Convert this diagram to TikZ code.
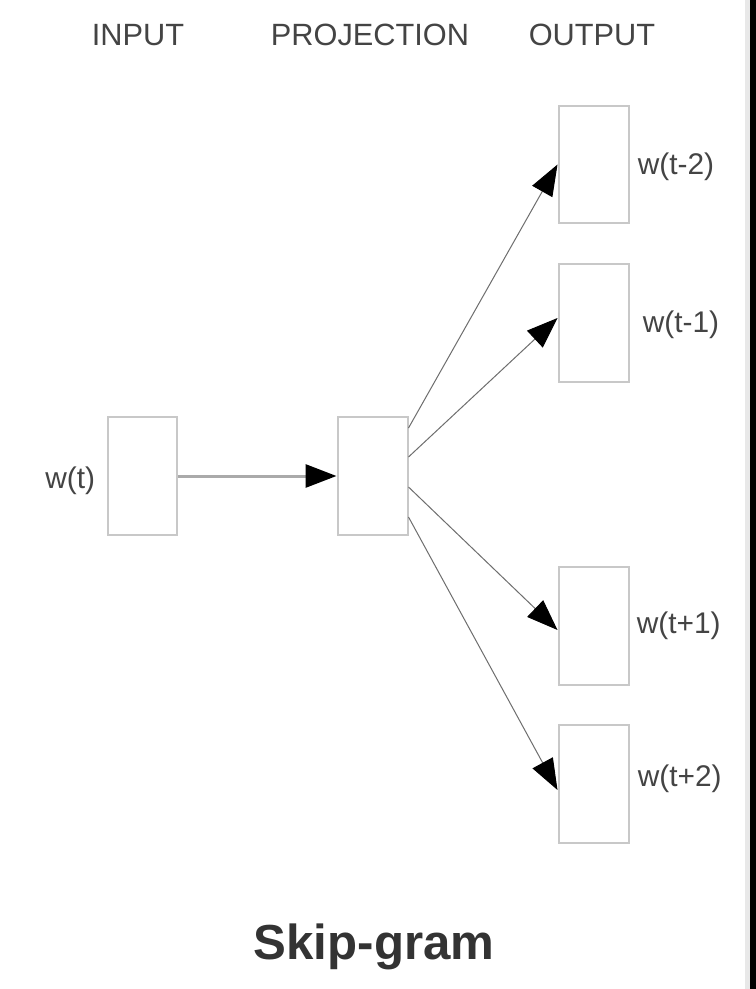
\documentclass[tikz,border=0pt]{standalone}
\usepackage{fontspec}
\setmainfont{Liberation Sans}
\usetikzlibrary{positioning,arrows.meta}
\definecolor{boxgray}{RGB}{200,200,200}
\definecolor{txtgray}{RGB}{68,68,68}
\definecolor{linegray}{RGB}{110,110,110}
\begin{document}
\begin{tikzpicture}[x=0.02cm, y=-0.02cm, node distance=0.16cm]
\tikzset{%
	layer/.style = {draw=boxgray, line width=0.04cm, rectangle, minimum width = 1.4cm, minimum height = 2.36cm, inner sep=0},
	lbl/.style = {text=txtgray, inner sep=0, font=\fontsize{17}{20}\selectfont},
	head/.style = {text=txtgray, inner sep=0, font=\fontsize{17.5}{20}\selectfont},
	tip/.style = {-{Triangle[length=0.62cm,width=0.46cm,color=black,fill=black]}},
	con/.style = {tip, draw=linegray, line width=0.02cm},
	feed/.style = {tip, draw=boxgray!85!black, line width=0.06cm}
}
\useasboundingbox[fill=white] (0,0) rectangle (756,989);
% screen edge
\fill[black!9] (745,0) rectangle (750,989);
\fill[black] (750,0) rectangle (756,989);

% Column headings
\draw node at (138,35) [head] (hin) {INPUT};
\draw node at (370,35) [head] (hproj) {PROJECTION};
\draw node at (592,35) [head] (hout) {OUTPUT};

% Layers
\draw node at (142.5,476) [layer] (inp) {};
\draw node at (372.5,476) [layer] (proj) {};
\draw node at (593.5,164.5) [layer] (o1) {};
\draw node at (593.5,323) [layer] (o2) {};
\draw node at (593.5,626) [layer] (o3) {};
\draw node at (593.5,784) [layer] (o4) {};

\node[lbl, left=0.22cm of inp, yshift=-0.1cm] (win) {w(t)};
\node[lbl, right=0.16cm of o1, yshift=-0.05cm] (w1) {w(t-2)};
\node[lbl, right=0.26cm of o2, yshift=-0.04cm] (w2) {w(t-1)};
\node[lbl, right=0.14cm of o3] (w3) {w(t+1)};
\node[lbl, right=0.16cm of o4, yshift=0.1cm] (w4) {w(t+2)};

% Connections
\coordinate (p1) at ([yshift=0.96cm]proj.east);
\coordinate (p2) at ([yshift=0.38cm]proj.east);
\coordinate (p3) at ([yshift=-0.22cm]proj.east);
\coordinate (p4) at ([yshift=-0.82cm]proj.east);

\draw[feed] (inp) -- (proj);
\draw[con] (p1) -- (o1.west);
\draw[con] (p2) -- ([yshift=0.1cm]o2.west);
\draw[con] (p3) -- ([yshift=-0.08cm]o3.west);
\draw[con] (p4) -- ([yshift=-0.12cm]o4.west);

\draw node at (374,947) [font=\fontsize{28}{32}\selectfont\bfseries, text=black!80, inner sep=0] (title) {Skip-gram};
\end{tikzpicture}
\end{document}
